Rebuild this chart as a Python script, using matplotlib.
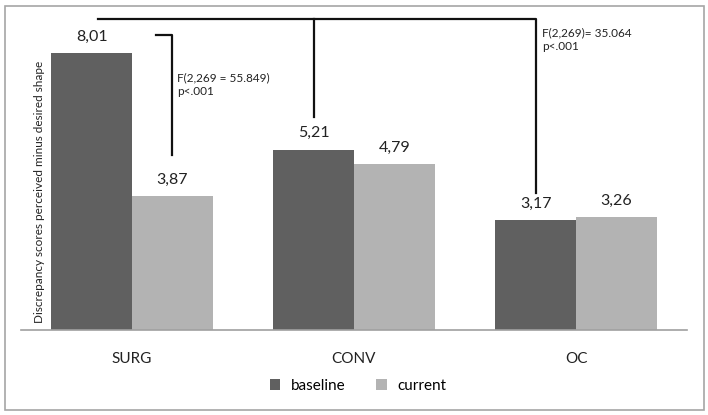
import numpy as np
import matplotlib
matplotlib.use("Agg")
from matplotlib import pyplot as plt
from matplotlib.patches import Rectangle

plt.rcParams['font.family'] = ['Lato', 'DejaVu Sans']

# data
groups = ["SURG", "CONV", "OC"]
baseline = [8.01, 5.21, 3.17]
current = [3.87, 4.79, 3.26]
series_names = ["baseline", "current"]
stat_surg = "F(2,269 = 55.849)\np<.001"
stat_all = "F(2,269)= 35.064\np<.001"

fig = plt.figure(figsize=(7.08, 4.15), dpi=100)
fig.patches.append(Rectangle((5 / 708, 5 / 415), 699 / 708, 404 / 415,
                             transform=fig.transFigure, fill=False,
                             edgecolor="#a6a6a6", linewidth=1.2))

ax = fig.add_axes([21 / 708, 85 / 415, 666 / 708, 311 / 415])
x = np.arange(len(groups))
w = 0.363
b1 = ax.bar(x - w / 2, baseline, w, color="#606060", label=series_names[0])
b2 = ax.bar(x + w / 2, current, w, color="#b3b3b3", label=series_names[1])

for bars, vals in [(b1, baseline), (b2, current)]:
    for r, v in zip(bars, vals):
        ax.text(r.get_x() + r.get_width() / 2, v + 0.28, f"{v:.2f}".replace(".", ","),
                ha="center", va="bottom", fontsize=11.5, color="#222222")

ax.set_xlim(-0.5, 2.5)
ax.set_ylim(0, 9)
ax.set_yticks([])
ax.set_xticks(x)
ax.set_xticklabels(groups, fontsize=11, color="#222222")
ax.tick_params(axis="x", length=0, pad=16)
for s in ["top", "right", "left"]:
    ax.spines[s].set_visible(False)
ax.spines["bottom"].set_color("#a0a0a0")
ax.spines["bottom"].set_linewidth(1.2)

ax.set_ylabel("Discrepancy scores perceived minus desired shape", fontsize=8.5,
              color="#222222")
ax.yaxis.set_label_coords(0.036, 0.444)

# brackets
lw = 1.6
xs = x[0] + w / 2
ax.plot([x[0] + 0.11, xs, xs], [8.55, 8.55, current[0] + 1.2],
        color="#111111", lw=lw, clip_on=False)
ax.text(xs + 0.02, 7.1, stat_surg, fontsize=8.5, va="center", ha="left",
        color="#222222", linespacing=1.3)

xc = x[1] - w / 2
xo = x[2] - w / 2
ytop = 9.0
ax.plot([x[0] - 0.153, xo, xo], [ytop, ytop, baseline[2] + 0.79],
        color="#111111", lw=lw, clip_on=False)
ax.plot([xc, xc], [ytop, baseline[1] + 0.95], color="#111111", lw=lw, clip_on=False)
ax.text(xo + 0.03, 8.4, stat_all, fontsize=8.5, va="center", ha="left",
        color="#222222", linespacing=1.3)

fig.legend(loc="center", bbox_to_anchor=(358 / 708, 1 - 386 / 415), ncol=2,
           frameon=False, fontsize=11, handlelength=0.7, handleheight=0.7,
           handletextpad=0.7, columnspacing=2.0)

plt.savefig("out.png", dpi=100)
